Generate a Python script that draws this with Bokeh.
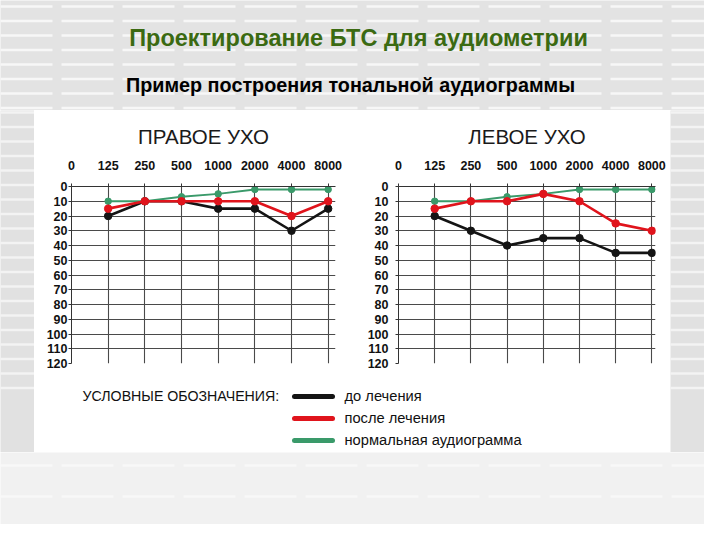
from bokeh.plotting import figure
from bokeh.layouts import column, row
from bokeh.models import Range1d, FixedTicker
from bokeh.embed import file_html
from bokeh.resources import INLINE
from bokeh.core.properties import value

# ---------------- data ----------------
main_title = "Проектирование БТС для аудиометрии"
sub_title = "Пример построения тональной аудиограммы"
freq_labels = ["0", "125", "250", "500", "1000", "2000", "4000", "8000"]
freqs = ["125", "250", "500", "1000", "2000", "4000", "8000"]
db_ticks = [0, 10, 20, 30, 40, 50, 60, 70, 80, 90, 100, 110, 120]

ear_titles = ["ПРАВОЕ УХО", "ЛЕВОЕ УХО"]
series_names = ["до лечения", "после лечения", "нормальная аудиограмма"]
legend_heading = "УСЛОВНЫЕ ОБОЗНАЧЕНИЯ:"

right_before = [20, 10, 10, 15, 15, 30, 15]
right_after = [15, 10, 10, 10, 10, 20, 10]
right_normal = [10, 10, 7, 5, 2, 2, 2]

left_before = [20, 30, 40, 35, 35, 45, 45]
left_after = [15, 10, 10, 5, 10, 25, 30]
left_normal = [10, 10, 7, 5, 2, 2, 2]

# ---------------- styles ----------------
FONT = "Liberation Sans"
C_BLACK = "#141414"
C_RED = "#e0141c"
C_GREEN = "#3a9a6a"
BG_TOP = "#e3e3e3"
BG_SIDE = "#e1e1e1"
BG_BOTTOM = "#f1f1f1"

xpos = [freq_labels.index(f) for f in freqs]


def blank(w, h, xr, yr, bg):
    p = figure(width=w, height=h, x_range=Range1d(*xr), y_range=Range1d(*yr),
               output_backend="svg", toolbar_location=None, min_border=0)
    p.axis.visible = False
    p.grid.visible = False
    p.outline_line_color = None
    p.background_fill_color = bg
    p.border_fill_color = bg
    return p


def stripes(p, x0, x1, ys, alpha=0.75):
    for y in ys:
        p.line([x0, x1], [y, y], line_color="white", line_width=2.5,
               line_alpha=alpha, line_dash="52 9")


# ---------------- header ----------------
header = blank(704, 110, (8, 712), (118, 8), BG_TOP)
stripes(header, 8, 712, [14 + 14.5 * i for i in range(8)], 0.7)
header.text(x=[366], y=[45], text=[main_title], text_font=value(FONT),
            text_font_size="23.5px", text_font_style="bold", text_color="#3b6a12",
            text_align="center", text_baseline="middle")
header.text(x=[358], y=[92], text=[sub_title], text_font=value(FONT),
            text_font_size="19.8px", text_font_style="bold", text_color="#000000",
            text_align="center", text_baseline="middle")


# ---------------- audiograms ----------------
def audiogram(title, before, after, normal, w, h, mbl, mbr, mbt, mbb, xend, ystand):
    p = figure(width=w, height=h, x_range=Range1d(0, xend), y_range=Range1d(120, 0),
               output_backend="svg", toolbar_location=None, x_axis_location="above",
               min_border_left=mbl, min_border_right=mbr, min_border_top=mbt,
               min_border_bottom=mbb, title=title)
    p.title.align = "center"
    p.title.text_font = FONT
    p.title.text_font_size = "20.5px"
    p.title.text_font_style = "normal"
    p.title.text_color = "#1a1a1a"
    p.title.standoff = 20
    p.background_fill_color = "white"
    p.border_fill_color = "white"
    p.outline_line_color = None

    p.xaxis.ticker = FixedTicker(ticks=list(range(len(freq_labels))))
    p.xaxis.major_label_overrides = {i: s for i, s in enumerate(freq_labels)}
    p.yaxis.ticker = FixedTicker(ticks=db_ticks)
    p.xgrid.ticker = FixedTicker(ticks=list(range(len(freq_labels))))
    p.ygrid.ticker = FixedTicker(ticks=db_ticks)
    p.grid.grid_line_color = "#4a4a4a"
    p.grid.grid_line_width = 1.1
    p.grid.grid_line_alpha = 1
    for ax in (p.xaxis, p.yaxis):
        ax.axis_line_color = "#333333"
        ax.axis_line_width = 1
        ax.major_tick_in = 0
        ax.major_tick_out = 3
        ax.major_tick_line_color = "#333333"
        ax.minor_tick_line_color = None
        ax.major_label_text_font = FONT
        ax.major_label_text_font_size = "12.5px"
        ax.major_label_text_font_style = "bold"
        ax.major_label_text_color = "#111111"
    p.xaxis.major_label_standoff = 14
    p.yaxis.major_label_standoff = ystand

    p.line(xpos, before, line_color=C_BLACK, line_width=2.6)
    p.scatter(xpos, before, size=7.5, fill_color=C_BLACK, line_color=C_BLACK)
    p.line(xpos, normal, line_color=C_GREEN, line_width=2)
    p.scatter(xpos, normal, size=6.5, fill_color=C_GREEN, line_color=C_GREEN)
    p.line(xpos, after, line_color=C_RED, line_width=2.6)
    p.scatter(xpos, after, size=7.5, fill_color=C_RED, line_color=C_RED)
    return p


pl = audiogram(ear_titles[0], right_before, right_after, right_normal,
               318, 267, 37, 17, 75, 14, 7.2, 1)
pr = audiogram(ear_titles[1], left_before, left_after, left_normal,
               318, 267, 46, 15, 76, 8, 7.1, 7)

# ---------------- legend ----------------
leg = blank(636, 75, (42, 678), (460, 385), "white")
leg.text(x=[90], y=[403], text=[legend_heading], text_font=value(FONT),
         text_font_size="14.2px", text_color="#111111",
         text_align="left", text_baseline="middle")
leg_colors = [C_BLACK, C_RED, C_GREEN]
leg_y = [404, 426, 448]
for name, col, yy in zip(series_names, leg_colors, leg_y):
    leg.line([302, 340], [yy, yy], line_color=col, line_width=5, line_cap="round")
    leg.text(x=[352], y=[yy - 1], text=[name], text_font=value(FONT),
             text_font_size="14.7px", text_color="#111111",
             text_align="left", text_baseline="middle")

# ---------------- side strips / footer ----------------
side_l = blank(34, 342, (8, 42), (460, 118), BG_SIDE)
side_r = blank(34, 342, (678, 712), (460, 118), BG_SIDE)
for s, (a, b) in ((side_l, (8, 42)), (side_r, (678, 712))):
    stripes(s, a, b, [120 + 14.5 * i for i in range(20)], 0.6)
footer = blank(704, 72, (8, 712), (532, 460), BG_BOTTOM)
stripes(footer, 8, 712, [473, 504], 0.5)

middle = row(side_l, column(row(pl, pr, spacing=0), leg, spacing=0), side_r, spacing=0)
layout = column(header, middle, footer, spacing=0)

open("out.html", "w").write(file_html(layout, INLINE))
